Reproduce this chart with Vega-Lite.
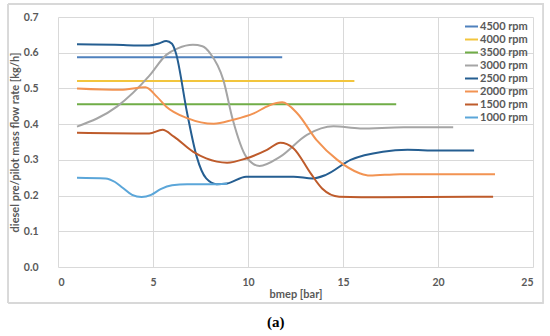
{
  "$schema": "https://vega.github.io/schema/vega-lite/v6.json",
  "autosize": "none",
  "width": 475,
  "height": 250,
  "padding": {"left": 58, "top": 17, "right": 17, "bottom": 69},
  "background": "white",
  "config": {
    "view": {"stroke": null},
    "font": "Lato",
    "axis": {"labelFont": "Lato", "titleFont": "Lato", "labelColor": "#595959", "titleColor": "#595959", "labelFontWeight": "bold", "titleFontWeight": "bold", "grid": true, "gridColor": "#D9D9D9", "gridWidth": 1, "domain": false, "ticks": false, "tickSize": 0, "labelFontSize": 10.5, "titleFontSize": 11},
    "axisX": {"tickCount": 5, "labelPadding": 10, "titlePadding": 1},
    "axisY": {"tickCount": 7, "labelPadding": 20, "titlePadding": 3, "format": ".1f"}
  },
  "title": {"text": "(a)", "orient": "bottom", "anchor": "middle", "frame": "bounds", "font": "Liberation Serif", "fontSize": 15, "fontWeight": "bold", "color": "#000000", "offset": 12},
  "data": {"values": [
    {"rpm": "4500 rpm", "x": 1, "y": 0.587}, {"rpm": "4500 rpm", "x": 11.8, "y": 0.587},
    {"rpm": "4000 rpm", "x": 1, "y": 0.521}, {"rpm": "4000 rpm", "x": 15.6, "y": 0.521},
    {"rpm": "3500 rpm", "x": 1, "y": 0.456}, {"rpm": "3500 rpm", "x": 17.8, "y": 0.456},
    {"rpm": "3000 rpm", "x": 1, "y": 0.393}, {"rpm": "3000 rpm", "x": 3.1, "y": 0.449}, {"rpm": "3000 rpm", "x": 4.8, "y": 0.535}, {"rpm": "3000 rpm", "x": 5.7, "y": 0.594}, {"rpm": "3000 rpm", "x": 6.3, "y": 0.612}, {"rpm": "3000 rpm", "x": 7.1, "y": 0.622}, {"rpm": "3000 rpm", "x": 7.6, "y": 0.618}, {"rpm": "3000 rpm", "x": 8.0, "y": 0.599}, {"rpm": "3000 rpm", "x": 8.7, "y": 0.524}, {"rpm": "3000 rpm", "x": 9.2, "y": 0.412}, {"rpm": "3000 rpm", "x": 9.9, "y": 0.309}, {"rpm": "3000 rpm", "x": 10.6, "y": 0.283}, {"rpm": "3000 rpm", "x": 11.7, "y": 0.309}, {"rpm": "3000 rpm", "x": 13.1, "y": 0.37}, {"rpm": "3000 rpm", "x": 14.5, "y": 0.394}, {"rpm": "3000 rpm", "x": 15.9, "y": 0.388}, {"rpm": "3000 rpm", "x": 18.2, "y": 0.391}, {"rpm": "3000 rpm", "x": 20.8, "y": 0.391},
    {"rpm": "2500 rpm", "x": 1, "y": 0.624}, {"rpm": "2500 rpm", "x": 3, "y": 0.622}, {"rpm": "2500 rpm", "x": 4.8, "y": 0.62}, {"rpm": "2500 rpm", "x": 5.3, "y": 0.626}, {"rpm": "2500 rpm", "x": 5.7, "y": 0.633}, {"rpm": "2500 rpm", "x": 6.0, "y": 0.625}, {"rpm": "2500 rpm", "x": 6.2, "y": 0.6}, {"rpm": "2500 rpm", "x": 6.8, "y": 0.43}, {"rpm": "2500 rpm", "x": 7.3, "y": 0.309}, {"rpm": "2500 rpm", "x": 7.8, "y": 0.248}, {"rpm": "2500 rpm", "x": 8.35, "y": 0.232}, {"rpm": "2500 rpm", "x": 8.9, "y": 0.234}, {"rpm": "2500 rpm", "x": 9.9, "y": 0.253}, {"rpm": "2500 rpm", "x": 12.4, "y": 0.253}, {"rpm": "2500 rpm", "x": 13.4, "y": 0.248}, {"rpm": "2500 rpm", "x": 14.1, "y": 0.258}, {"rpm": "2500 rpm", "x": 15.4, "y": 0.3}, {"rpm": "2500 rpm", "x": 17.1, "y": 0.323}, {"rpm": "2500 rpm", "x": 18.4, "y": 0.328}, {"rpm": "2500 rpm", "x": 20, "y": 0.326}, {"rpm": "2500 rpm", "x": 21.9, "y": 0.326},
    {"rpm": "2000 rpm", "x": 1, "y": 0.5}, {"rpm": "2000 rpm", "x": 3.3, "y": 0.496}, {"rpm": "2000 rpm", "x": 4.6, "y": 0.503}, {"rpm": "2000 rpm", "x": 5.2, "y": 0.477}, {"rpm": "2000 rpm", "x": 5.7, "y": 0.449}, {"rpm": "2000 rpm", "x": 6.8, "y": 0.417}, {"rpm": "2000 rpm", "x": 8.2, "y": 0.401}, {"rpm": "2000 rpm", "x": 9.2, "y": 0.412}, {"rpm": "2000 rpm", "x": 10.3, "y": 0.43}, {"rpm": "2000 rpm", "x": 11.1, "y": 0.452}, {"rpm": "2000 rpm", "x": 11.8, "y": 0.461}, {"rpm": "2000 rpm", "x": 12.6, "y": 0.43}, {"rpm": "2000 rpm", "x": 13.6, "y": 0.356}, {"rpm": "2000 rpm", "x": 14.7, "y": 0.3}, {"rpm": "2000 rpm", "x": 15.9, "y": 0.262}, {"rpm": "2000 rpm", "x": 16.4, "y": 0.256}, {"rpm": "2000 rpm", "x": 18, "y": 0.26}, {"rpm": "2000 rpm", "x": 23, "y": 0.26},
    {"rpm": "1500 rpm", "x": 1, "y": 0.376}, {"rpm": "1500 rpm", "x": 4.8, "y": 0.374}, {"rpm": "1500 rpm", "x": 5.5, "y": 0.384}, {"rpm": "1500 rpm", "x": 6.1, "y": 0.365}, {"rpm": "1500 rpm", "x": 7.1, "y": 0.323}, {"rpm": "1500 rpm", "x": 7.8, "y": 0.304}, {"rpm": "1500 rpm", "x": 8.9, "y": 0.292}, {"rpm": "1500 rpm", "x": 9.9, "y": 0.304}, {"rpm": "1500 rpm", "x": 11, "y": 0.328}, {"rpm": "1500 rpm", "x": 11.7, "y": 0.348}, {"rpm": "1500 rpm", "x": 12.4, "y": 0.332}, {"rpm": "1500 rpm", "x": 13.3, "y": 0.262}, {"rpm": "1500 rpm", "x": 13.9, "y": 0.22}, {"rpm": "1500 rpm", "x": 14.8, "y": 0.197}, {"rpm": "1500 rpm", "x": 17.1, "y": 0.195}, {"rpm": "1500 rpm", "x": 22.9, "y": 0.197},
    {"rpm": "1000 rpm", "x": 1, "y": 0.25}, {"rpm": "1000 rpm", "x": 2.5, "y": 0.248}, {"rpm": "1000 rpm", "x": 3.0, "y": 0.238}, {"rpm": "1000 rpm", "x": 3.4, "y": 0.222}, {"rpm": "1000 rpm", "x": 3.9, "y": 0.202}, {"rpm": "1000 rpm", "x": 4.4, "y": 0.196}, {"rpm": "1000 rpm", "x": 4.9, "y": 0.202}, {"rpm": "1000 rpm", "x": 5.4, "y": 0.218}, {"rpm": "1000 rpm", "x": 6.0, "y": 0.229}, {"rpm": "1000 rpm", "x": 6.8, "y": 0.232}, {"rpm": "1000 rpm", "x": 8.4, "y": 0.232}, {"rpm": "1000 rpm", "x": 8.9, "y": 0.233}
  ]},
  "layer": [
    {
      "mark": {"type": "rect", "filled": false, "fillOpacity": 0, "stroke": "#D9D9D9", "strokeWidth": 1, "clip": false},
      "encoding": {
        "x": {"datum": -2.63, "type": "quantitative"},
        "x2": {"datum": 25.55},
        "y": {"datum": 0.736, "type": "quantitative"},
        "y2": {"datum": -0.1}
      }
    },
    {
      "mark": {"type": "line", "interpolate": "monotone", "strokeWidth": 2},
      "encoding": {
        "x": {"field": "x", "type": "quantitative", "scale": {"domain": [0, 25], "nice": false}, "title": "bmep [bar]"},
        "y": {"field": "y", "type": "quantitative", "scale": {"domain": [0, 0.7], "nice": false}, "title": "diesel pre/pilot mass flow rate [kg/h]"},
        "color": {"field": "rpm", "type": "nominal",
          "scale": {"domain": ["4500 rpm", "4000 rpm", "3500 rpm", "3000 rpm", "2500 rpm", "2000 rpm", "1500 rpm", "1000 rpm"],
                    "range": ["#4F81BD", "#F2C53D", "#70AD47", "#A5A5A5", "#255E91", "#F29352", "#BE5B2B", "#5BA6D9"]},
          "legend": {"title": null, "orient": "none", "legendX": 406, "legendY": 2, "symbolType": "stroke", "symbolSize": 169, "symbolStrokeWidth": 2, "labelFontSize": 11, "labelFont": "Lato", "labelFontWeight": "bold", "labelColor": "#595959", "labelOffset": 1, "rowPadding": 0}}
      }
    }
  ]
}
